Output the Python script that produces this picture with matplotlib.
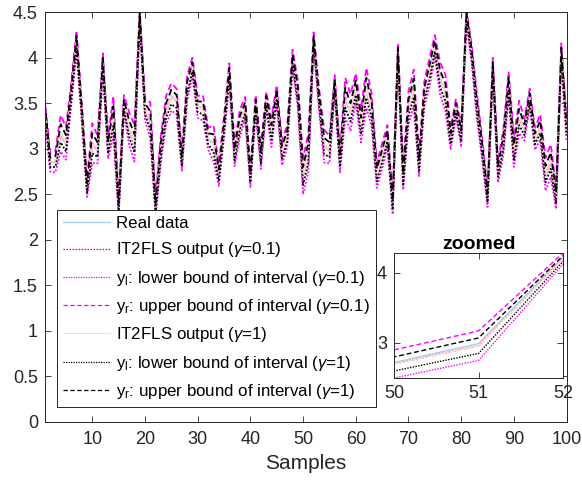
import numpy as np
import matplotlib
matplotlib.use('Agg')
import matplotlib.pyplot as plt

plt.rcParams['font.family'] = ['Liberation Sans', 'DejaVu Sans']
plt.rcParams['mathtext.fontset'] = 'custom'
plt.rcParams['mathtext.rm'] = 'Liberation Sans'
plt.rcParams['mathtext.it'] = 'Liberation Sans:italic'

# samples 1..100
samples = np.arange(1, 101)

# real data
real_data = [3.45, 2.85, 2.85, 3.15, 3.05, 3.60, 4.20, 3.40, 2.55, 3.05,
             2.98, 3.97, 3.00, 3.35, 2.33, 3.50, 3.20, 3.05, 4.49, 3.43,
             3.30, 2.33, 2.98, 3.43, 3.58, 3.52, 2.84, 3.68, 3.92, 3.46,
             3.46, 3.10, 3.05, 2.69, 3.24, 3.86, 2.91, 3.28, 3.46, 2.66,
             3.50, 2.88, 3.54, 3.17, 3.61, 2.95, 3.13, 4.01, 3.61, 2.72,
             2.99, 4.22, 3.57, 3.02, 2.98, 3.72, 2.84, 3.57, 3.39, 3.68,
             3.24, 3.68, 3.43, 2.69, 2.91, 3.13, 2.36, 4.08, 2.65, 3.46,
             3.68, 2.80, 3.61, 3.85, 4.15, 3.78, 3.62, 3.10, 3.46, 3.13,
             4.49, 4.05, 3.46, 2.98, 2.44, 3.92, 2.73, 3.06, 3.72, 2.95,
             3.35, 3.20, 3.57, 3.10, 3.24, 2.70, 2.86, 2.44, 4.08, 3.20]

# IT2FLS outputs (almost on top of the real data)
out_g01 = [3.45, 2.85, 2.86, 3.17, 3.06, 3.60, 4.18, 3.41, 2.57, 3.06,
           2.99, 3.95, 3.01, 3.36, 2.35, 3.49, 3.22, 3.06, 4.46, 3.44,
           3.31, 2.35, 2.99, 3.42, 3.57, 3.52, 2.86, 3.67, 3.90, 3.46,
           3.45, 3.11, 3.06, 2.71, 3.24, 3.84, 2.93, 3.28, 3.45, 2.68,
           3.49, 2.90, 3.53, 3.18, 3.60, 2.96, 3.14, 3.99, 3.60, 2.70,
           2.96, 4.20, 3.56, 3.03, 2.99, 3.71, 2.86, 3.56, 3.40, 3.67,
           3.25, 3.67, 3.43, 2.71, 2.92, 3.14, 2.38, 4.06, 2.67, 3.45,
           3.67, 2.82, 3.60, 3.84, 4.13, 3.77, 3.62, 3.11, 3.45, 3.14,
           4.46, 4.04, 3.46, 2.99, 2.46, 3.90, 2.75, 3.07, 3.71, 2.96,
           3.35, 3.21, 3.56, 3.11, 3.24, 2.72, 2.87, 2.46, 4.06, 3.21]
out_g1 = out_g01

# half width of the interval [y_l, y_r]
half_g01 = [0.10, 0.10, 0.12, 0.20, 0.18, 0.12, 0.12, 0.10, 0.10, 0.22,
            0.15, 0.10, 0.12, 0.22, 0.10, 0.10, 0.18, 0.20, 0.08, 0.12,
            0.20, 0.10, 0.15, 0.16, 0.15, 0.14, 0.10, 0.14, 0.10, 0.12,
            0.14, 0.12, 0.20, 0.12, 0.12, 0.10, 0.12, 0.15, 0.12, 0.10,
            0.10, 0.12, 0.10, 0.16, 0.10, 0.14, 0.12, 0.10, 0.15, 0.20,
            0.21, 0.08, 0.12, 0.18, 0.15, 0.10, 0.12, 0.22, 0.20, 0.16,
            0.18, 0.22, 0.18, 0.14, 0.14, 0.12, 0.10, 0.10, 0.12, 0.18,
            0.20, 0.12, 0.14, 0.16, 0.12, 0.18, 0.20, 0.12, 0.10, 0.12,
            0.08, 0.10, 0.14, 0.12, 0.10, 0.10, 0.12, 0.14, 0.14, 0.16,
            0.18, 0.12, 0.10, 0.12, 0.14, 0.18, 0.18, 0.12, 0.10, 0.12]
half_g1 = [0.05, 0.05, 0.06, 0.10, 0.09, 0.06, 0.06, 0.05, 0.05, 0.11,
           0.08, 0.05, 0.06, 0.11, 0.05, 0.05, 0.09, 0.10, 0.04, 0.06,
           0.10, 0.05, 0.08, 0.08, 0.08, 0.07, 0.05, 0.07, 0.05, 0.06,
           0.07, 0.06, 0.10, 0.06, 0.06, 0.05, 0.06, 0.08, 0.06, 0.05,
           0.05, 0.06, 0.05, 0.08, 0.05, 0.07, 0.06, 0.05, 0.08, 0.10,
           0.11, 0.04, 0.06, 0.09, 0.08, 0.05, 0.06, 0.11, 0.10, 0.08,
           0.09, 0.11, 0.09, 0.07, 0.07, 0.06, 0.05, 0.05, 0.06, 0.09,
           0.10, 0.06, 0.07, 0.08, 0.06, 0.09, 0.10, 0.06, 0.05, 0.06,
           0.04, 0.05, 0.07, 0.06, 0.05, 0.05, 0.06, 0.07, 0.07, 0.08,
           0.09, 0.06, 0.05, 0.06, 0.07, 0.09, 0.09, 0.06, 0.05, 0.06]

ytick_vals = [0, 0.5, 1, 1.5, 2, 2.5, 3, 3.5, 4, 4.5]
ytick_labels = ['0', '0.5', '1', '1.5', '2', '2.5', '3', '3.5', '4', '4.5']
xtick_vals = [10, 20, 30, 40, 50, 60, 70, 80, 90, 100]

out_g01 = np.array(out_g01)
out_g1 = np.array(out_g1)
yl_g01 = out_g01 - np.array(half_g01)
yr_g01 = out_g01 + np.array(half_g01)
yl_g1 = out_g1 - np.array(half_g1)
yr_g1 = out_g1 + np.array(half_g1)

labels = ['Real data',
          r'IT2FLS output ($\gamma$=0.1)',
          r'y$_\mathrm{l}$: lower bound of interval ($\gamma$=0.1)',
          r'y$_\mathrm{r}$: upper bound of interval ($\gamma$=0.1)',
          r'IT2FLS output ($\gamma$=1)',
          r'y$_\mathrm{l}$: lower bound of interval ($\gamma$=1)',
          r'y$_\mathrm{r}$: upper bound of interval ($\gamma$=1)']


def draw(ax, lw=0.9):
    ax.plot(samples, real_data, color='#9fcdee', lw=lw, ls='-')
    ax.plot(samples, out_g01, color='red', lw=lw, ls=(0, (1.2, 1.2)))
    ax.plot(samples, yl_g01, color='magenta', lw=lw, ls=(0, (1, 1)))
    ax.plot(samples, yr_g01, color='magenta', lw=lw, ls=(0, (3.5, 2)))
    ax.plot(samples, out_g1, color='#ffd8d8', lw=lw, ls='-')
    ax.plot(samples, yl_g1, color='black', lw=lw, ls=(0, (1, 1)))
    ax.plot(samples, yr_g1, color='black', lw=lw, ls=(0, (3.5, 2)))


def matlab_axes(ax, size):
    ax.tick_params(direction='in', top=True, right=True, length=4,
                   width=0.6, labelsize=size, colors='#262626')
    for s in ax.spines.values():
        s.set_color('#262626')
        s.set_linewidth(0.7)


fig = plt.figure(figsize=(5.82, 4.83), dpi=100)
ax = fig.add_axes([0.0771, 0.1269, 0.8964, 0.8476])
draw(ax, lw=1.3)
ax.set_xlim(1, 100)
ax.set_ylim(0, 4.5)
ax.set_xticks(xtick_vals)
ax.set_yticks(ytick_vals)
ax.set_yticklabels(ytick_labels)
matlab_axes(ax, 13)
ax.tick_params(axis='x', pad=7)
ax.tick_params(axis='y', pad=5)
ax.set_xlabel('Samples', fontsize=15, color='#262626', labelpad=4)

leg = ax.legend(ax.get_lines(), labels, loc='lower left',
                bbox_to_anchor=(0.023, 0.036), borderaxespad=0,
                fontsize=12.2, handlelength=2.8, handletextpad=0.35,
                borderpad=0.35, labelspacing=0.55, fancybox=False,
                framealpha=1, edgecolor='#262626')
leg.get_frame().set_linewidth(0.7)
for h in leg.get_lines():
    h.set_linewidth(0.9)

# zoomed inset
axi = fig.add_axes([0.677, 0.2174, 0.2904, 0.2588])
draw(axi, lw=1.0)
win = (samples >= 50) & (samples <= 52)
lo = min(yl_g01[win].min(), yl_g1[win].min())
hi = max(yr_g01[win].max(), yr_g1[win].max())
axi.set_xlim(50, 52)
axi.set_ylim(lo, hi)
axi.set_xticks([50, 51, 52])
axi.set_yticks([3, 4])
matlab_axes(axi, 13)
axi.tick_params(axis='both', pad=5)
axi.set_title('zoomed', fontsize=14, fontweight='bold', pad=3)

fig.savefig('out.png', dpi=100)
